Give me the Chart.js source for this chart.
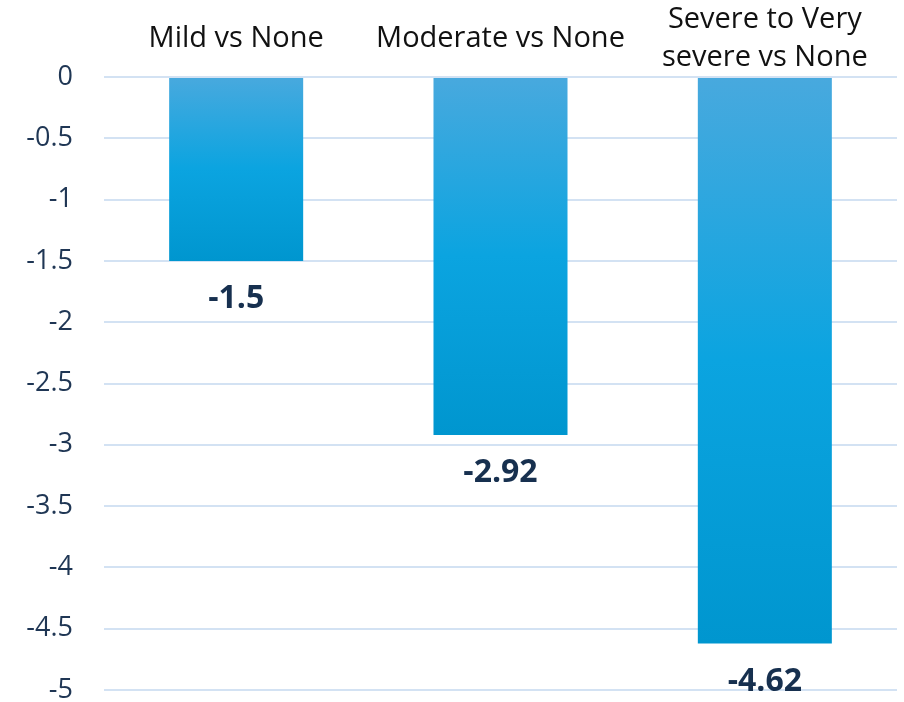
<!DOCTYPE html>
<html>
<head>
<meta charset="utf-8">
<script src="https://cdn.jsdelivr.net/npm/chart.js@4"></script>
<style>
  html, body { margin: 0; padding: 0; background: #fff; }
  #wrap { width: 904px; height: 702px; }
</style>
</head>
<body>
<div id="wrap"><canvas id="chart"></canvas></div>
<script>
const categories = ['Mild vs None', 'Moderate vs None', ['Severe to Very', 'severe vs None']];
const values = [-1.5, -2.92, -4.62];
const valueLabels = ['-1.5', '-2.92', '-4.62'];

// gradient per bar, from its top (0) down to its own end
function barGradient(context) {
  const chart = context.chart;
  const y = chart.scales.y;
  if (!chart.chartArea || !y) return '#0ea5e0';
  const top = y.getPixelForValue(0);
  const bottom = y.getPixelForValue(context.raw);
  const g = chart.ctx.createLinearGradient(0, top, 0, bottom);
  g.addColorStop(0, '#48a9de');
  g.addColorStop(0.5, '#0ba4e0');
  g.addColorStop(1, '#0096cf');
  return g;
}

// value labels under each bar + category names centred above the plot
const labelPlugin = {
  id: 'labels',
  afterDatasetsDraw(chart) {
    const ctx = chart.ctx;
    const meta = chart.getDatasetMeta(0);
    const x = chart.scales.x;
    ctx.save();
    ctx.textAlign = 'center';
    ctx.textBaseline = 'middle';

    ctx.font = 'bold 32px "Open Sans"';
    ctx.fillStyle = '#17304f';
    meta.data.forEach((bar, i) => {
      ctx.fillText(valueLabels[i], bar.x, bar.y + 38);
    });

    ctx.font = '29px "Open Sans"';
    ctx.fillStyle = '#111';
    const lineH = 38;
    const mid = x.top + x.height / 2;
    categories.forEach((cat, i) => {
      const lines = Array.isArray(cat) ? cat : [cat];
      const px = x.getPixelForValue(i);
      const start = mid - (lines.length - 1) * lineH / 2;
      lines.forEach((t, j) => ctx.fillText(t, px, start + j * lineH));
    });
    ctx.restore();
  }
};

new Chart(document.getElementById('chart'), {
  type: 'bar',
  data: {
    labels: categories,
    datasets: [{
      data: values,
      backgroundColor: barGradient,
      borderWidth: 0,
      categoryPercentage: 1,
      barPercentage: 0.507
    }]
  },
  options: {
    responsive: true,
    maintainAspectRatio: false,
    animation: false,
    layout: { padding: { left: 0, right: 7, top: 0, bottom: 12 } },
    plugins: {
      legend: { display: false },
      tooltip: { enabled: false }
    },
    scales: {
      x: {
        position: 'top',
        grid: { display: false, drawTicks: false },
        border: { display: false },
        ticks: { display: false },
        afterFit(axis) {
          axis.height = 77;
          axis.paddingLeft = 0;
          axis.paddingRight = 0;
        }
      },
      y: {
        min: -5,
        max: 0,
        grid: { color: '#d3e2f3', lineWidth: 2, drawTicks: false },
        border: { display: false },
        ticks: {
          stepSize: 0.5,
          color: '#1f3654',
          font: { family: '"Open Sans"', size: 27 },
          padding: 31,
          callback: v => String(v)
        },
        afterFit(axis) {
          axis.width = 104;
          axis.paddingTop = 0;
          axis.paddingBottom = 0;
        }
      }
    }
  },
  plugins: [labelPlugin]
});
</script>
</body>
</html>
